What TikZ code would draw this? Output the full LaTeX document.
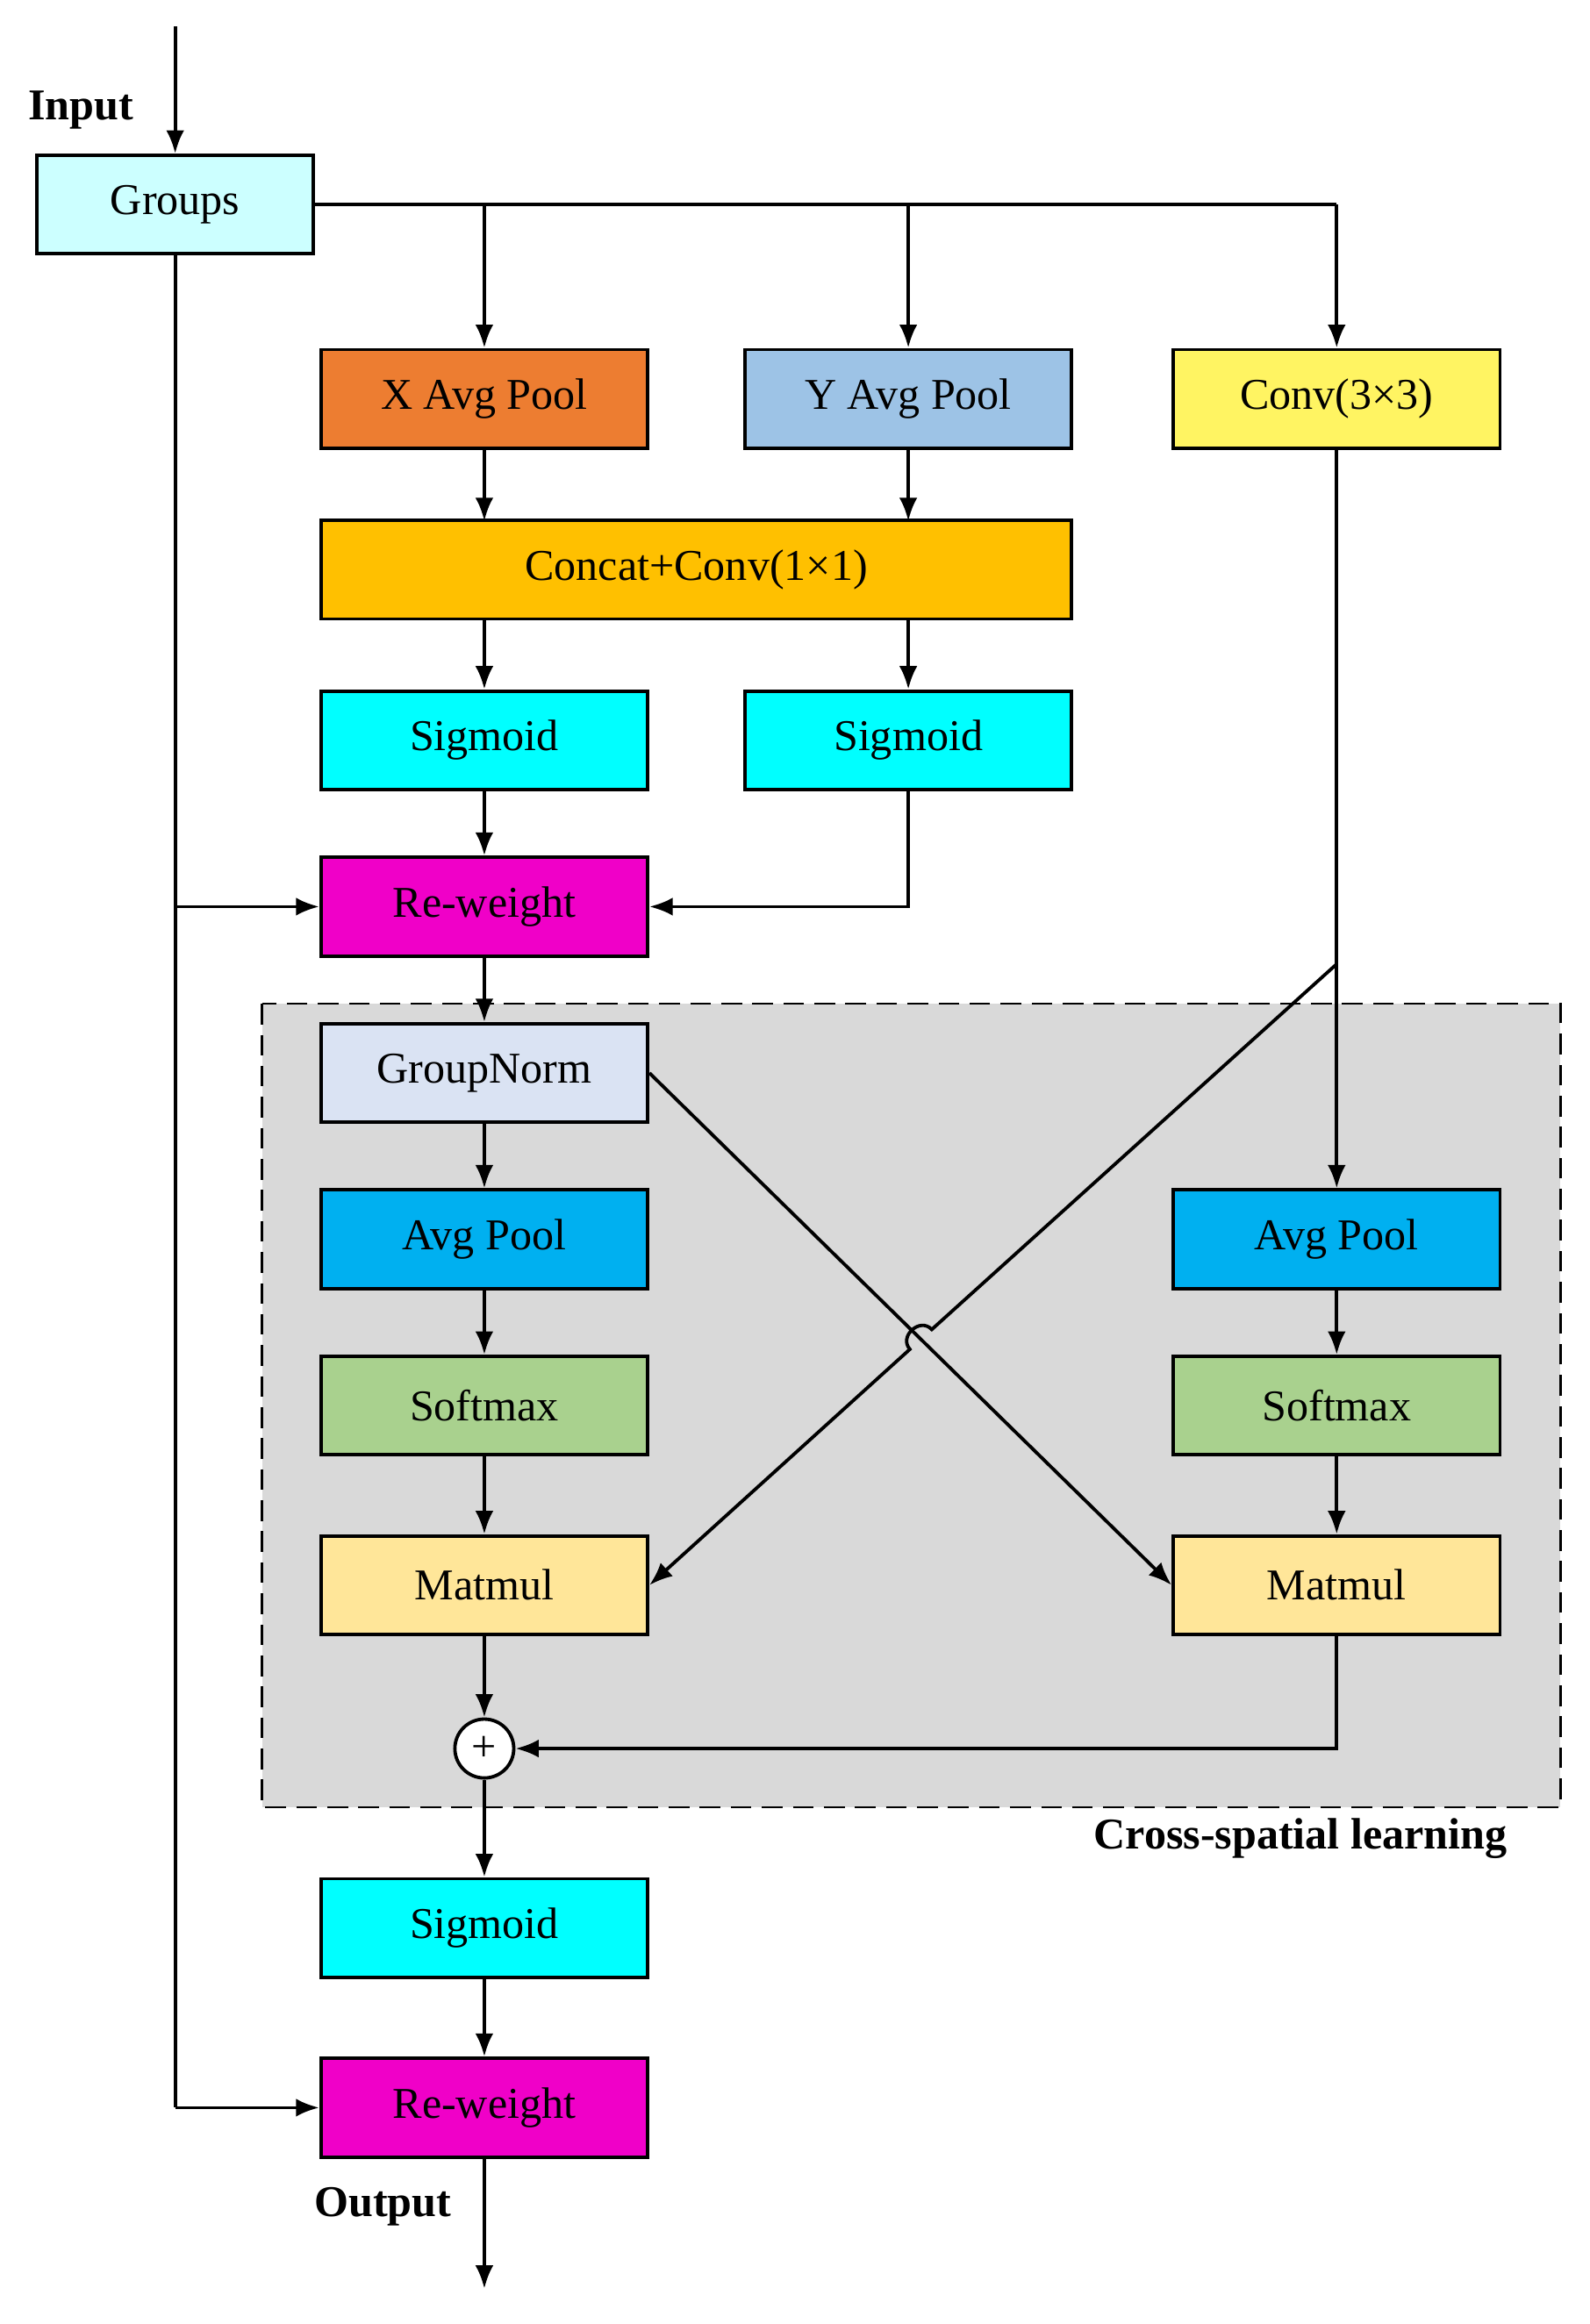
\documentclass[tikz,border=0pt]{standalone}
\usepackage{fontspec}
\setmainfont{Liberation Serif}
\usetikzlibrary{arrows.meta,calc}
\definecolor{cgroups}{HTML}{CCFFFF}
\definecolor{cx}{HTML}{ED7D31}
\definecolor{cy}{HTML}{9DC3E6}
\definecolor{cconv}{HTML}{FFF462}
\definecolor{ccat}{HTML}{FFC000}
\definecolor{csig}{HTML}{00FFFF}
\definecolor{crw}{HTML}{F000C8}
\definecolor{cgn}{HTML}{DAE3F3}
\definecolor{cap}{HTML}{00B0F0}
\definecolor{csm}{HTML}{A9D18E}
\definecolor{cmm}{HTML}{FFE699}
\definecolor{cgray}{HTML}{D9D9D9}
\tikzset{
 box/.style={draw,line width=1.3pt,minimum width=4.44cm,minimum height=1.34cm,font=\fontsize{17}{20}\selectfont,inner sep=0pt},
 ln/.style={line width=1.3pt},
 ar/.style={ln,-{Latex[length=9pt,width=7pt]}},
 lbl/.style={font=\bfseries\fontsize{17}{20}\selectfont}
}
\begin{document}
\begin{tikzpicture}[x=0.02cm,y=-0.02cm]
\useasboundingbox (0,0) rectangle (1080,1579);
\fill[cgray] (178,682) rectangle (1060,1228);
\draw[ln,dashed,line width=0.8pt,dash pattern=on 8pt off 4pt] (178,682) rectangle (1060,1228);
\node[lbl,anchor=east] (csl) at (1030,1249) {Cross-spatial learning};

\node[box,fill=cgroups,minimum width=3.76cm] (g) at (119,139) {Groups};
\node[box,fill=cx] (xp) at (329,271) {X Avg Pool};
\node[box,fill=cy] (yp) at (617,271) {Y Avg Pool};
\node[box,fill=cconv] (cv) at (908,271) {Conv(3×3)};
\node[box,fill=ccat,minimum width=10.2cm] (cat) at (473,387) {Concat+Conv(1×1)};
\node[box,fill=csig] (s1) at (329,503) {Sigmoid};
\node[box,fill=csig] (s2) at (617,503) {Sigmoid};
\node[box,fill=crw] (rw1) at (329,616) {Re-weight};
\node[box,fill=cgn] (gn) at (329,729) {GroupNorm};
\node[box,fill=cap] (apl) at (329,842) {Avg Pool};
\node[box,fill=cap] (apr) at (908,842) {Avg Pool};
\node[box,fill=csm] (sml) at (329,955) {Softmax};
\node[box,fill=csm] (smr) at (908,955) {Softmax};
\node[box,fill=cmm] (mml) at (329,1077) {Matmul};
\node[box,fill=cmm] (mmr) at (908,1077) {Matmul};
\node[draw,circle,fill=white,line width=1.3pt,minimum size=0.8cm,inner sep=0pt,font=\fontsize{17}{20}\selectfont] (pl) at (329,1188) {+};
\node[box,fill=csig] (s3) at (329,1310) {Sigmoid};
\node[box,fill=crw] (rw2) at (329,1432) {Re-weight};

\node[lbl] (in) at (55,75) {Input};
\node[lbl] (out) at (260,1499) {Output};
\coordinate (top) at (119,18);
\coordinate (bot) at (329,1555);
\draw[ar] (top) -- (g);
\draw[ar] (rw2) -- (bot);

\coordinate (gr) at (908,139);
\draw[ln] (g.east) -- (gr);
\draw[ar] (gr) -- (cv);
\draw[ar] (329,139) -- (xp);
\draw[ar] (617,139) -- (yp);
\draw[ar] (xp) -- (329,354);
\draw[ar] (yp) -- (617,354);
\draw[ar] (329,421) -- (s1);
\draw[ar] (617,421) -- (s2);
\draw[ar] (s1) -- (rw1);
\draw[ar] (s2.south) |- (rw1.east);
\draw[ln] (g.south) -- (119,1432);
\draw[ar] (119,616) -- (rw1.west);
\draw[ar] (119,1432) -- (rw2.west);
\draw[ar] (rw1) -- (gn);
\draw[ar] (gn) -- (apl);
\draw[ar] (apl) -- (sml);
\draw[ar] (sml) -- (mml);
\draw[ar] (mml) -- (pl);
\draw[ar] (pl) -- (s3);
\draw[ar] (s3) -- (rw2);
\coordinate (bend) at (908,655);
\draw[ar] (cv) -- (apr);
\draw[ar] (apr) -- (smr);
\draw[ar] (smr) -- (mmr);
\draw[ar] (mmr.south) |- (pl.east);
\draw[ar] (gn.east) -- (mmr.west);
\coordinate (X) at (625.5,910);
\draw[ar] (bend) -- ($(X)!0.2cm!(bend)$) to[bend right=90,looseness=1.5] ($(X)!0.2cm!(mml.east)$) -- (mml.east);
\end{tikzpicture}
\end{document}
